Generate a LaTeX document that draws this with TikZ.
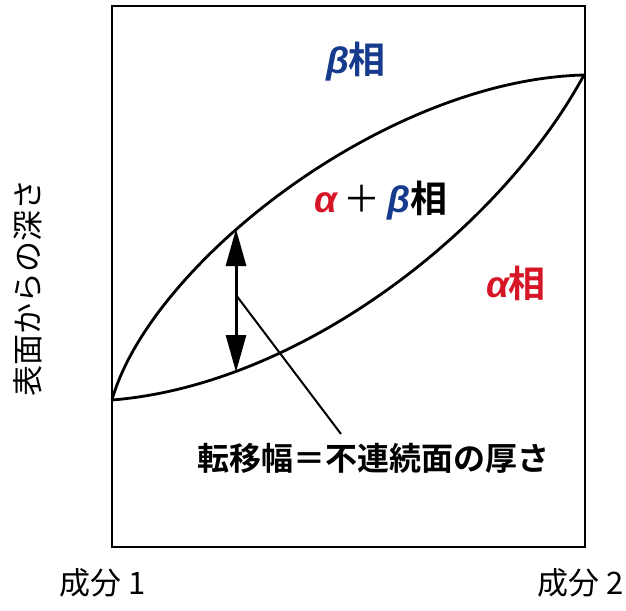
\documentclass[tikz,border=0pt]{standalone}
\usepackage{fontspec}
\usepackage{xcolor}
\usetikzlibrary{arrows.meta}
\newfontfamily\jpfont{Noto Sans CJK JP}[BoldFont={Noto Sans CJK JP Bold}]
\newfontfamily\grkfont{Liberation Sans}
\definecolor{betablue}{RGB}{22,58,140}
\definecolor{alphared}{RGB}{214,22,38}
\newcommand{\grk}[1]{{\grkfont\bfseries\itshape #1}}

\begin{document}
\begin{tikzpicture}[x=1pt,y=-1pt,line width=2.8pt,
  lbl/.style={inner sep=0pt,font=\jpfont\fontsize{31}{36}\selectfont},
  phase/.style={inner sep=0pt,font=\jpfont\bfseries\fontsize{37}{42}\selectfont},
  note/.style={inner sep=0pt,font=\jpfont\bfseries\fontsize{32}{38}\selectfont},
  widtharrow/.style={{Triangle[length=37pt,width=20pt]}-{Triangle[length=37pt,width=20pt]},line width=3pt}]
  \useasboundingbox (0,0) rectangle (626,610);
  % frame and phase boundaries
  \draw (112,6) rectangle (585,547);
  \coordinate (lj) at (112,400);
  \coordinate (rj) at (584,75);
  \draw (lj) .. controls (150,265) and (384,80) .. (rj);
  \draw (lj) .. controls (300,385) and (500,230) .. (rj);
  % phase labels
  \node[phase,text=betablue] (beta) at (356,62) {\grk{β}相};
  \node[phase] (mix) at (381,201)
    {\textcolor{alphared}{\grk{α}}\,{\mdseries＋}\,\textcolor{betablue}{\grk{β}}相};
  \node[phase,text=alphared] (alpha) at (516,283) {\grk{α}相};
  % transition width
  \coordinate (wtop) at (236,229);
  \coordinate (wbot) at (236,372);
  \draw[widtharrow] (wtop) -- (wbot);
  \node[note] (width) at (373,458) {転移幅＝不連続面の厚さ};
  \coordinate (lead) at (236,295);
  \coordinate (leadend) at (341,434);
  \draw[line width=2pt] (lead) -- (leadend);
  % axes
  \node[lbl,rotate=90] (depth) at (28,288) {表面からの深さ};
  \node[lbl,anchor=west] (comp1) at (58,583) {成分 1};
  \node[lbl,anchor=east] (comp2) at (625,583) {成分 2};
\end{tikzpicture}
\end{document}
